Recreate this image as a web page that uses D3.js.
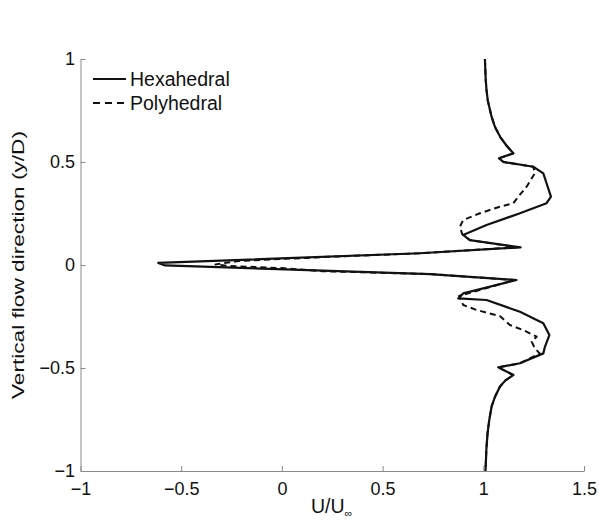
<!DOCTYPE html>
<html><head><meta charset="utf-8">
<script src="https://cdn.jsdelivr.net/npm/d3@7"></script>
<style>
html,body{margin:0;padding:0;background:#fff;}
text{font-family:"Liberation Sans",Arial,Helvetica,sans-serif;fill:#111;}
</style></head>
<body>
<svg id="chart" width="599" height="522"></svg>
<script>
// Hexahedral mesh profile (solid)
const hexY = [1.0, 0.95, 0.9, 0.85, 0.8, 0.72, 0.67, 0.62, 0.58, 0.542, 0.518, 0.50, 0.477, 0.445, 0.397, 0.332, 0.30, 0.251, 0.194, 0.146, 0.121, 0.086, 0.057, 0.010, -0.002, -0.044, -0.073, -0.138, -0.162, -0.17, -0.227, -0.283, -0.34, -0.397, -0.429, -0.477, -0.497, -0.534, -0.56, -0.59, -0.64, -0.688, -0.75, -0.817, -0.9, -1.0];
const hexU = [1.008, 1.010, 1.012, 1.016, 1.022, 1.041, 1.058, 1.085, 1.115, 1.149, 1.078, 1.10, 1.248, 1.298, 1.314, 1.336, 1.314, 1.182, 1.016, 0.90, 0.933, 1.185, 0.685, -0.614, -0.58, 0.735, 1.165, 0.90, 0.876, 1.016, 1.182, 1.298, 1.328, 1.306, 1.298, 1.182, 1.074, 1.149, 1.11, 1.083, 1.058, 1.041, 1.03, 1.021, 1.015, 1.011];
// Polyhedral mesh profile (dashed)
const polyY = [1.0, 0.95, 0.9, 0.85, 0.8, 0.72, 0.67, 0.62, 0.58, 0.542, 0.518, 0.50, 0.477, 0.445, 0.38, 0.332, 0.30, 0.283, 0.251, 0.218, 0.186, 0.15, 0.121, 0.086, 0.057, 0.04, 0.02, 0.003, -0.005, -0.015, -0.03, -0.044, -0.073, -0.15, -0.194, -0.218, -0.248, -0.291, -0.316, -0.348, -0.372, -0.404, -0.429, -0.477, -0.497, -0.534, -0.56, -0.59, -0.64, -0.688, -0.75, -0.817, -0.9, -1.0];
const polyU = [1.008, 1.010, 1.012, 1.016, 1.022, 1.041, 1.058, 1.085, 1.115, 1.149, 1.078, 1.10, 1.248, 1.256, 1.215, 1.174, 1.149, 1.082, 0.983, 0.90, 0.884, 0.895, 0.933, 1.17, 0.685, 0.24, -0.21, -0.33, -0.26, 0.0, 0.2, 0.735, 1.155, 0.88, 0.90, 0.966, 1.082, 1.132, 1.198, 1.265, 1.24, 1.256, 1.28, 1.182, 1.074, 1.149, 1.11, 1.083, 1.058, 1.041, 1.03, 1.021, 1.015, 1.011];

const xTicks = [-1, -0.5, 0, 0.5, 1, 1.5];
const yTicks = [-1, -0.5, 0, 0.5, 1];
const seriesNames = ["Hexahedral", "Polyhedral"];
const xLabel = "U/U";
const xLabelSub = "\u221E";
const yLabel = "Vertical flow direction (y/D)";

const svg = d3.select("#chart");
const x = d3.scaleLinear().domain([-1, 1.5]).range([80.5, 584]);
const y = d3.scaleLinear().domain([-1, 1]).range([471, 59]);

const fmt = d => (d < 0 ? "\u2212" : "") + String(Math.abs(d));
const axisColor = "#8a8a8a";
const tickFont = 18;

// X axis
const gx = svg.append("g").attr("transform", `translate(0,${y(-1)})`)
  .call(d3.axisBottom(x).tickValues(xTicks).tickSizeInner(-5).tickSizeOuter(0).tickPadding(11).tickFormat(fmt));
gx.select(".domain").attr("stroke", axisColor);
gx.selectAll(".tick line").attr("stroke", axisColor);
gx.selectAll("text").attr("font-size", tickFont).attr("fill", "#111");

// Y axis
const gy = svg.append("g").attr("transform", `translate(${x(-1)},0)`)
  .call(d3.axisLeft(y).tickValues(yTicks).tickSizeInner(-5).tickSizeOuter(0).tickPadding(5.5).tickFormat(fmt));
gy.select(".domain").attr("stroke", axisColor);
gy.selectAll(".tick line").attr("stroke", axisColor);
gy.selectAll("text").attr("font-size", tickFont).attr("fill", "#111");
svg.selectAll("g").attr("font-family", null);

// Lines
const hexData = hexY.map((v, i) => [hexU[i], v]);
const polyData = polyY.map((v, i) => [polyU[i], v]);
const line = d3.line().x(d => x(d[0])).y(d => y(d[1]));

svg.append("path").datum(polyData).attr("d", line)
  .attr("fill", "none").attr("stroke", "#111").attr("stroke-width", 2)
  .attr("stroke-dasharray", "6,4").attr("stroke-linejoin", "round");
svg.append("path").datum(hexData).attr("d", line)
  .attr("fill", "none").attr("stroke", "#111").attr("stroke-width", 2.2)
  .attr("stroke-linejoin", "round");

// Legend
const lg = svg.append("g");
const legY = [79, 103];
seriesNames.forEach((n, i) => {
  lg.append("line").attr("x1", 93).attr("x2", 126).attr("y1", legY[i]).attr("y2", legY[i])
    .attr("stroke", "#111").attr("stroke-width", 2)
    .attr("stroke-dasharray", i === 1 ? "7,5" : null);
  lg.append("text").attr("x", 130).attr("y", legY[i]).attr("dy", "0.35em")
    .attr("font-size", 19.5).text(n);
});

// Axis labels
const xl = svg.append("text").attr("x", 311).attr("y", 513).attr("font-size", 19.5);
xl.append("tspan").text(xLabel);
xl.append("tspan").attr("dy", 4).attr("font-size", 11).text(xLabelSub);

svg.append("text").attr("transform", `translate(24,265) rotate(-90)`)
  .attr("text-anchor", "middle").attr("font-size", 17)
  .attr("textLength", 268).attr("lengthAdjust", "spacingAndGlyphs").text(yLabel);
</script>
</body></html>
